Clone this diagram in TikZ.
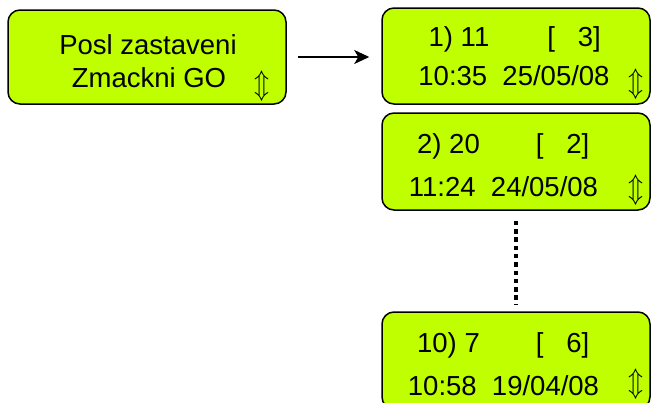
\documentclass[tikz,border=0pt]{standalone}
\usepackage{fontspec}
\setmainfont{Liberation Sans}
\usetikzlibrary{arrows.meta}
\definecolor{lcd}{RGB}{191,255,0}
\newcommand{\updn}{\resizebox{15pt}{22pt}{$\Updownarrow$}}
\begin{document}
\begin{tikzpicture}[x=1pt,y=-1pt,
  lcdbox/.style={draw=black, line width=1.5pt, fill=lcd, rounded corners=12pt, minimum width=268pt, minimum height=96pt, inner sep=0pt},
  txt/.style={anchor=base, inner sep=0pt, font=\fontsize{27.5}{33}\selectfont},
  updown/.style={inner sep=0pt},
  flow/.style={line width=1.5pt, -{Stealth[length=15pt,width=14pt,inset=4pt]}},
  dots/.style={line width=4.5pt, dash pattern=on 4.5pt off 3.8pt}]
\useasboundingbox (0,0) rectangle (651,402);
\clip (0,0) rectangle (651,402);
\node[lcdbox, minimum width=278pt, minimum height=94pt] (b1) at (147,57) {};
\node[lcdbox, minimum height=96pt] (b2) at (516,56) {};
\node[lcdbox, minimum height=97pt] (b3) at (516,161.5) {};
\node[lcdbox, minimum height=97pt] (b4) at (516,360.5) {};
% box 1
\node[txt] (t1a) at (148,54) {Posl zastaveni};
\node[txt] (t1b) at (149,87) {Zmackni GO};
\node[updown] (u1) at (262,86) {\updn};
% box 2
\node[txt] (t2a) at (459,46) {1) 11};
\node[txt] (t2b) at (574,46) {[~~~3]};
\node[txt] (t2c) at (514,85) {10:35~~25/05/08};
\node[updown] (u2) at (636,84) {\updn};
% box 3
\node[txt] (t3a) at (448.5,153) {2) 20};
\node[txt] (t3b) at (562.5,153) {[~~~2]};
\node[txt] (t3c) at (503.5,196) {11:24~~24/05/08};
\node[updown] (u3) at (636,190) {\updn};
% box 4
\node[txt] (t4a) at (448.5,352) {10) 7};
\node[txt] (t4b) at (562.5,352) {[~~~6]};
\node[txt] (t4c) at (503.5,395) {10:58~~19/04/08};
\node[updown] (u4) at (636,384) {\updn};
% connectors
\draw[flow, shorten <=11pt, shorten >=12pt] (b1.east) -- (b1.east -| b2.west);
\draw[dots, shorten <=10pt, shorten >=7pt] (b3.south) -- (b4.north);
\end{tikzpicture}
\end{document}
